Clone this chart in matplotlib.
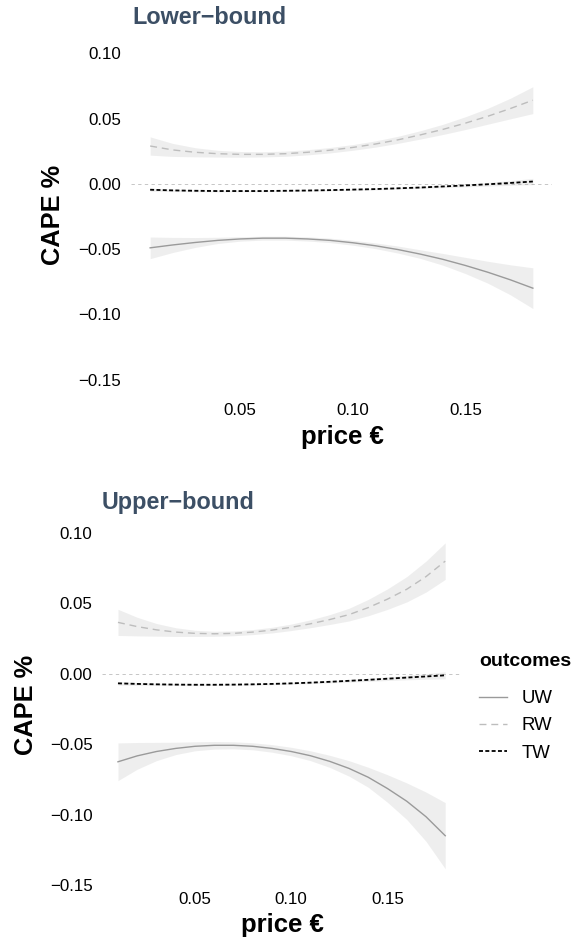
import matplotlib.pyplot as plt
from matplotlib.lines import Line2D

plt.rcParams['font.family'] = ['Liberation Sans', 'DejaVu Sans']

# prix (axe x)
price = [0.01, 0.02, 0.03, 0.04, 0.05, 0.06, 0.07, 0.08, 0.09,
         0.10, 0.11, 0.12, 0.13, 0.14, 0.15, 0.16, 0.17, 0.18]

outcomes = ["UW", "RW", "TW"]
x_ticks = [0.05, 0.10, 0.15]
y_ticks = [0.10, 0.05, 0.00, -0.05, -0.10, -0.15]

# Lower-bound: fit et demi-largeur de l'IC
lb_uw = [-0.0490, -0.0468, -0.0449, -0.0433, -0.0422, -0.0416, -0.0416, -0.0422, -0.0433,
         -0.0451, -0.0474, -0.0503, -0.0538, -0.0578, -0.0625, -0.0677, -0.0735, -0.0799]
lb_uw_ci = [0.0083, 0.0058, 0.0038, 0.0024, 0.0017, 0.0015, 0.0015, 0.0016, 0.0017,
            0.0019, 0.0022, 0.0027, 0.0033, 0.0045, 0.0062, 0.0084, 0.0115, 0.0156]
lb_rw = [0.0290, 0.0260, 0.0242, 0.0231, 0.0226, 0.0226, 0.0231, 0.0242, 0.0258,
         0.0279, 0.0305, 0.0337, 0.0375, 0.0417, 0.0465, 0.0518, 0.0577, 0.0641]
lb_rw_ci = [0.0070, 0.0050, 0.0035, 0.0026, 0.0022, 0.0020, 0.0020, 0.0020, 0.0021,
            0.0022, 0.0024, 0.0027, 0.0032, 0.0039, 0.0049, 0.0061, 0.0079, 0.0103]
lb_tw = [-0.0045, -0.0050, -0.0053, -0.0055, -0.0055, -0.0055, -0.0053, -0.0051, -0.0048,
         -0.0044, -0.0040, -0.0034, -0.0028, -0.0020, -0.0012, -0.0003, 0.0007, 0.0018]
lb_tw_ci = [0.0012, 0.0009, 0.0007, 0.0006, 0.0005, 0.0005, 0.0005, 0.0005, 0.0005,
            0.0005, 0.0006, 0.0006, 0.0007, 0.0009, 0.0011, 0.0014, 0.0018, 0.0024]

# Upper-bound
ub_uw = [-0.0625, -0.0583, -0.0552, -0.0530, -0.0515, -0.0508, -0.0508, -0.0515, -0.0530,
         -0.0552, -0.0582, -0.0622, -0.0672, -0.0735, -0.0815, -0.0905, -0.1015, -0.1150]
ub_uw_ci = [0.0134, 0.0095, 0.0065, 0.0044, 0.0032, 0.0027, 0.0025, 0.0025, 0.0027,
            0.0030, 0.0035, 0.0043, 0.0055, 0.0071, 0.0098, 0.0130, 0.0175, 0.0235]
ub_rw = [0.0365, 0.0335, 0.0312, 0.0296, 0.0287, 0.0284, 0.0287, 0.0296, 0.0310,
         0.0330, 0.0355, 0.0385, 0.0420, 0.0470, 0.0530, 0.0600, 0.0690, 0.0800]
ub_rw_ci = [0.0093, 0.0066, 0.0045, 0.0031, 0.0022, 0.0018, 0.0017, 0.0018, 0.0020,
            0.0023, 0.0028, 0.0035, 0.0045, 0.0058, 0.0073, 0.0090, 0.0110, 0.0130]
ub_tw = [-0.0068, -0.0072, -0.0075, -0.0077, -0.0078, -0.0078, -0.0077, -0.0075, -0.0072,
         -0.0068, -0.0063, -0.0057, -0.0050, -0.0043, -0.0035, -0.0027, -0.0019, -0.0011]
ub_tw_ci = [0.0013, 0.0010, 0.0008, 0.0006, 0.0006, 0.0005, 0.0005, 0.0005, 0.0006,
            0.0006, 0.0007, 0.0008, 0.0009, 0.0011, 0.0013, 0.0016, 0.0020, 0.0025]

# styles par outcome
styles = {
    "UW": dict(color="#9a9a9a", linestyle="-", linewidth=1.0),
    "RW": dict(color="#bdbdbd", linestyle=(0, (5, 3.5)), linewidth=1.0),
    "TW": dict(color="black", linestyle=(0, (2.2, 1.3)), linewidth=1.3),
}
title_color = "#3c4f65"


def panel(ax, series, ylim, xpad, ypad):
    ax.axhline(0, color="#bdbdbd", linewidth=0.6, linestyle=(0, (4, 4)), zorder=1)
    for name, (fit, ci) in zip(outcomes, series):
        lo = [f - c for f, c in zip(fit, ci)]
        hi = [f + c for f, c in zip(fit, ci)]
        ax.fill_between(price, lo, hi, color="#999999", alpha=0.16, linewidth=0, zorder=2)
    for name, (fit, ci) in zip(outcomes, series):
        ax.plot(price, fit, zorder=3, **styles[name])
    ax.set_xlim(0.0015, 0.1885)
    ax.set_ylim(*ylim)
    ax.set_xticks(x_ticks)
    ax.set_xticklabels(["0.05", "0.10", "0.15"])
    ax.set_yticks(y_ticks)
    ax.set_yticklabels(["0.10", "0.05", "0.00", "\u22120.05", "\u22120.10", "\u22120.15"])
    ax.tick_params(axis="both", length=0, labelsize=12.2)
    ax.tick_params(axis="x", pad=xpad)
    ax.tick_params(axis="y", pad=ypad)
    for s in ax.spines.values():
        s.set_visible(False)
    ax.set_facecolor("none")


W, H = 574, 941
fig = plt.figure(figsize=(W / 100, H / 100), dpi=100)

# panneau du haut
ax1 = fig.add_axes([131 / W, 1 - 396 / H, 421 / W, 359 / H])
panel(ax1, [(lb_uw, lb_uw_ci), (lb_rw, lb_rw_ci), (lb_tw, lb_tw_ci)],
      (-0.1625, 0.1125), 5, 7)
fig.text(132 / W, 1 - 17 / H, "Lower\u2212bound", fontsize=16.8, fontweight="bold",
         color=title_color, ha="left", va="center")
fig.text(53 / W, 1 - 215 / H, "CAPE %", fontsize=18.3, fontweight="bold",
         rotation=90, ha="center", va="center")
fig.text(342 / W, 1 - 437 / H, "price \u20ac", fontsize=18.5, fontweight="bold",
         ha="center", va="center")

# panneau du bas
ax2 = fig.add_axes([101.6 / W, 1 - 885.7 / H, 360 / W, 362.6 / H])
panel(ax2, [(ub_uw, ub_uw_ci), (ub_rw, ub_rw_ci), (ub_tw, ub_tw_ci)],
      (-0.1505, 0.107), 4.5, 6.5)
fig.text(102 / W, 1 - 503 / H, "Upper\u2212bound", fontsize=16.8, fontweight="bold",
         color=title_color, ha="left", va="center")
fig.text(26 / W, 1 - 705 / H, "CAPE %", fontsize=18.3, fontweight="bold",
         rotation=90, ha="center", va="center")
fig.text(282 / W, 1 - 925 / H, "price \u20ac", fontsize=18.5, fontweight="bold",
         ha="center", va="center")

# legende
fig.text(479 / W, 1 - 662 / H, "outcomes", fontsize=14.0, fontweight="bold",
         ha="left", va="center")
handles = [Line2D([], [], **styles[n]) for n in outcomes]
leg = fig.legend(handles, outcomes, loc="upper left", bbox_to_anchor=(479 / W, 1 - 690 / H),
                 frameon=False, fontsize=13.4, borderaxespad=0, borderpad=0,
                 handlelength=1.5, handletextpad=0.8, labelspacing=0.55)

plt.savefig("out.png", dpi=100)
